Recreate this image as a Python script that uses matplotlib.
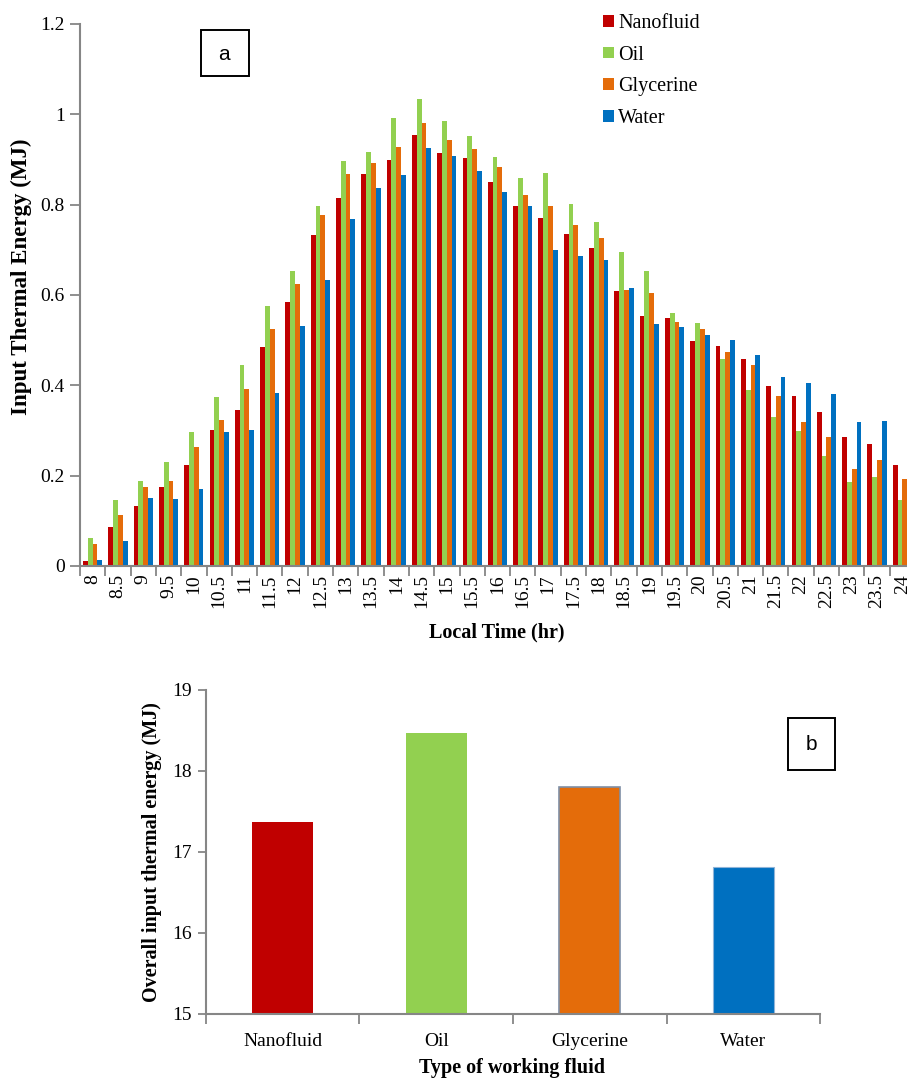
import numpy as np
import matplotlib
matplotlib.use("Agg")
import matplotlib.pyplot as plt
from matplotlib.patches import Rectangle

# Hourly input thermal energy (MJ) for each working fluid
hours = ["8", "8.5", "9", "9.5", "10", "10.5", "11", "11.5", "12", "12.5", "13",
         "13.5", "14", "14.5", "15", "15.5", "16", "16.5", "17", "17.5", "18",
         "18.5", "19", "19.5", "20", "20.5", "21", "21.5", "22", "22.5", "23",
         "23.5", "24"]
nanofluid = [0.012, 0.087, 0.132, 0.174, 0.224, 0.302, 0.345, 0.484, 0.584, 0.732, 0.814,
             0.867, 0.899, 0.954, 0.914, 0.904, 0.849, 0.797, 0.770, 0.734, 0.704,
             0.609, 0.554, 0.549, 0.499, 0.486, 0.459, 0.399, 0.376, 0.341, 0.286,
             0.271, 0.224]
oil = [0.062, 0.146, 0.187, 0.230, 0.296, 0.374, 0.444, 0.575, 0.652, 0.797, 0.896,
       0.916, 0.992, 1.034, 0.984, 0.951, 0.906, 0.858, 0.871, 0.801, 0.762,
       0.695, 0.654, 0.561, 0.537, 0.459, 0.389, 0.329, 0.299, 0.244, 0.186,
       0.196, 0.146]
glycerine = [0.049, 0.112, 0.174, 0.187, 0.264, 0.324, 0.392, 0.525, 0.625, 0.777, 0.868,
             0.892, 0.927, 0.981, 0.944, 0.924, 0.884, 0.822, 0.797, 0.754, 0.727,
             0.611, 0.604, 0.540, 0.525, 0.474, 0.444, 0.376, 0.319, 0.286, 0.214,
             0.235, 0.192]
water = [0.014, 0.056, 0.151, 0.149, 0.171, 0.296, 0.301, 0.383, 0.531, 0.633, 0.768,
         0.836, 0.865, 0.925, 0.908, 0.875, 0.827, 0.798, 0.699, 0.686, 0.678,
         0.616, 0.535, 0.528, 0.511, 0.500, 0.468, 0.418, 0.405, 0.380, 0.318,
         0.322, 0.275]

# Overall input thermal energy (MJ)
fluids = ["Nanofluid", "Oil", "Glycerine", "Water"]
overall = [17.37, 18.47, 17.80, 16.81]

colors = ["#C00000", "#92D050", "#E46C0A", "#0070C0"]
spine_gray = "#868686"
serif = ["Liberation Serif", "DejaVu Serif"]

plt.rcParams["font.family"] = serif

fig = plt.figure(figsize=(9.07, 10.78), dpi=100)

# ---------------- panel (a) ----------------
ax1 = fig.add_axes([0.0882, 0.4750, 0.9206, 0.5028])
x = np.arange(len(hours))
bw = 0.19
series = [("Nanofluid", nanofluid), ("Oil", oil), ("Glycerine", glycerine), ("Water", water)]
for i, (name, vals) in enumerate(series):
    ax1.bar(x + (i - 1.5) * bw, vals, width=bw, color=colors[i], label=name,
            linewidth=0)

ax1.set_xlim(-0.5, len(hours) - 0.5)
ax1.set_ylim(0, 1.2)
ax1.set_yticks([0, 0.2, 0.4, 0.6, 0.8, 1.0, 1.2])
ax1.set_yticklabels(["0", "0.2", "0.4", "0.6", "0.8", "1", "1.2"], fontsize=14)
ax1.set_xticks(x)
ax1.set_xticklabels(hours, rotation=90, fontsize=14)
ax1.set_xticks(np.arange(len(hours) + 1) - 0.5, minor=True)
ax1.tick_params(axis="x", which="major", length=0, pad=6)
ax1.tick_params(axis="x", which="minor", length=7, width=1.3, color=spine_gray,
                direction="out")
ax1.tick_params(axis="y", length=7, width=1.3, color=spine_gray, direction="out", pad=4)
for s in ["top", "right"]:
    ax1.spines[s].set_visible(False)
for s in ["left", "bottom"]:
    ax1.spines[s].set_color(spine_gray)
    ax1.spines[s].set_linewidth(1.5)

ax1.set_ylabel("Input Thermal Energy (MJ)", fontsize=16.5, fontweight="bold")
ax1.yaxis.set_label_coords(-0.070, 0.533)
ax1.yaxis.label.set_va("center")
ax1.set_xlabel("Local Time (hr)", fontsize=14.5, fontweight="bold")
ax1.xaxis.set_label_coords(0.499, -0.122)
ax1.xaxis.label.set_va("center")

leg = ax1.legend(loc="upper left", bbox_to_anchor=(0.6168, 1.0332), frameon=False,
                 fontsize=14.5, handlelength=0.52, handleheight=0.52,
                 handletextpad=0.22, labelspacing=0.63, borderaxespad=0)

# panel tag "a"
fig.patches.append(Rectangle((201 / 907, 1 - 76 / 1078), 48 / 907, 46 / 1078,
                             transform=fig.transFigure, fill=False,
                             edgecolor="black", linewidth=1.4))
fig.text(224 / 907, 1 - 54 / 1078, "a", ha="center", va="center", fontsize=15,
         family=["Liberation Sans", "DejaVu Sans"])

# ---------------- panel (b) ----------------
ax2 = fig.add_axes([0.2271, 0.0594, 0.677, 0.3006])
xb = np.arange(len(fluids))
bars = ax2.bar(xb, [v - 15 for v in overall], bottom=15, width=0.40, color=colors,
               linewidth=0)
bars[2].set_edgecolor("#7f8fa6")
bars[2].set_linewidth(1.2)
bars[3].set_edgecolor("#8fb4d8")
bars[3].set_linewidth(0.8)

ax2.set_xlim(-0.5, len(fluids) - 0.5)
ax2.set_ylim(15, 19)
ax2.set_yticks([15, 16, 17, 18, 19])
ax2.set_yticklabels(["15", "16", "17", "18", "19"], fontsize=14)
ax2.set_xticks(xb)
ax2.set_xticklabels(fluids, fontsize=14)
ax2.set_xticks(np.arange(len(fluids) + 1) - 0.5, minor=True)
ax2.tick_params(axis="x", which="major", length=0, pad=14)
ax2.tick_params(axis="x", which="minor", length=7, width=1.3, color=spine_gray,
                direction="out")
ax2.tick_params(axis="y", length=6, width=1.3, color=spine_gray, direction="out", pad=4)
for s in ["top", "right"]:
    ax2.spines[s].set_visible(False)
for s in ["left", "bottom"]:
    ax2.spines[s].set_color(spine_gray)
    ax2.spines[s].set_linewidth(1.5)

ax2.set_ylabel("Overall input thermal energy (MJ)", fontsize=14.5, fontweight="bold")
ax2.yaxis.set_label_coords((152 - 206) / 614, (1014 - 852) / 324)
ax2.yaxis.label.set_va("center")
ax2.set_xlabel("Type of working fluid", fontsize=14.5, fontweight="bold")
ax2.xaxis.set_label_coords((512 - 206) / 614, (1014 - 1068) / 324)
ax2.xaxis.label.set_va("center")

# panel tag "b"
fig.patches.append(Rectangle((788 / 907, 1 - 770 / 1078), 47 / 907, 52 / 1078,
                             transform=fig.transFigure, fill=False,
                             edgecolor="black", linewidth=1.4))
fig.text(811 / 907, 1 - 744 / 1078, "b", ha="center", va="center", fontsize=15,
         family=["Liberation Sans", "DejaVu Sans"])

fig.savefig("out.png", dpi=100)
